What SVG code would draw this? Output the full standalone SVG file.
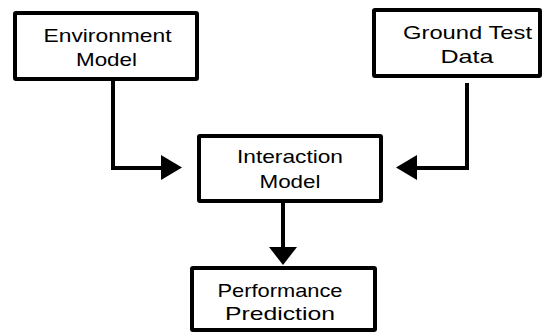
<svg xmlns="http://www.w3.org/2000/svg" width="555" height="335" viewBox="0 0 555 335">
<style>
.box{fill:#fff;stroke:#000;stroke-width:4}
.t{font-family:"Liberation Sans",Arial,sans-serif;font-size:18.5px;fill:#000;text-anchor:middle}
.c{fill:none;stroke:#000;stroke-width:4}
.h{fill:#000}
</style>
<rect width="555" height="335" fill="#fff"/>
<g id="connectors">
<path class="c" d="M113 81 V168 H163"/>
<polygon class="h" points="161,155 182,167.5 161,180"/>
<path class="c" d="M467 83 V168 H416"/>
<polygon class="h" points="417,155 396,167.5 417,180"/>
<path class="c" d="M283 203 V249"/>
<polygon class="h" points="269,247 297,247 283,265"/>
</g>
<g id="environment">
<rect class="box" x="15" y="13" width="182" height="66" rx="1"/>
<text class="t" x="107.5" y="42" textLength="128" lengthAdjust="spacingAndGlyphs">Environment</text>
<text class="t" x="106.5" y="66" textLength="61" lengthAdjust="spacingAndGlyphs">Model</text>
</g>
<g id="ground">
<rect class="box" x="374" y="10" width="166" height="66" rx="1"/>
<text class="t" x="467.5" y="39" textLength="129" lengthAdjust="spacingAndGlyphs">Ground Test</text>
<text class="t" x="467" y="63" textLength="53" lengthAdjust="spacingAndGlyphs">Data</text>
</g>
<g id="interaction">
<rect class="box" x="199" y="136" width="182" height="65" rx="1"/>
<text class="t" x="290" y="163" textLength="106" lengthAdjust="spacingAndGlyphs">Interaction</text>
<text class="t" x="290" y="188" textLength="61" lengthAdjust="spacingAndGlyphs">Model</text>
</g>
<g id="performance">
<rect class="box" x="192" y="268" width="183" height="62" rx="1"/>
<text class="t" x="280" y="297" textLength="125" lengthAdjust="spacingAndGlyphs">Performance</text>
<text class="t" x="280" y="320" textLength="110" lengthAdjust="spacingAndGlyphs">Prediction</text>
</g>
</svg>
